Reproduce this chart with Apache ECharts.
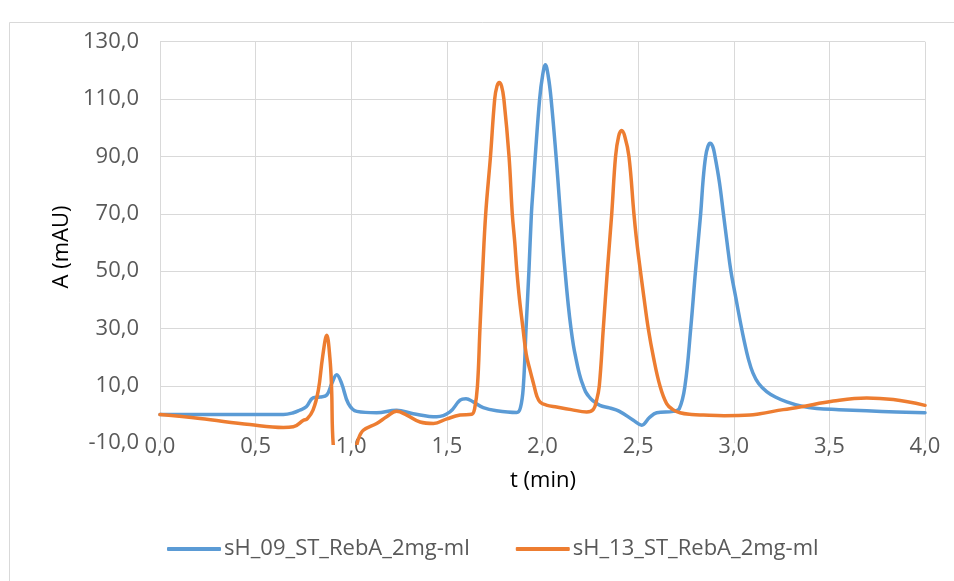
<!DOCTYPE html>
<html>
<head>
<meta charset="utf-8">
<script src="https://cdn.jsdelivr.net/npm/echarts@6/dist/echarts.min.js"></script>
<style>
html,body{margin:0;padding:0;background:#fff;}
#chart{width:954px;height:581px;}
</style>
</head>
<body>
<div id="chart"></div>
<script>
// Series names
var seriesNames = ["sH_09_ST_RebA_2mg-ml", "sH_13_ST_RebA_2mg-ml"];

// sH_09 (blue) : time (min) and absorbance (mAU)
var blueT = [0, 0.3, 0.645, 0.697, 0.73, 0.765, 0.80, 0.837, 0.872, 0.898, 0.924, 0.95, 0.985, 1.029, 1.133, 1.237, 1.324, 1.447, 1.516, 1.569, 1.6, 1.638, 1.69, 1.76, 1.865, 1.885, 1.9, 1.914, 1.929, 1.942, 1.952, 1.962, 1.985, 2.0, 2.015, 2.03, 2.045, 2.071, 2.088, 2.105, 2.118, 2.135, 2.149, 2.162, 2.175, 2.188, 2.2, 2.213, 2.225, 2.24, 2.26, 2.3, 2.35, 2.4, 2.475, 2.519, 2.56, 2.597, 2.684, 2.715, 2.745, 2.775, 2.80, 2.827, 2.84, 2.853, 2.865, 2.876, 2.89, 2.902, 2.925, 2.946, 2.965, 2.985, 3.01, 3.033, 3.055, 3.076, 3.1, 3.13, 3.172, 3.22, 3.277, 3.35, 3.434, 3.55, 3.695, 3.85, 4.0];
var blueA = [0, 0, 0, 0.6, 1.5, 2.7, 5.8, 6.1, 6.8, 10.8, 13.9, 10.8, 3.8, 1.1, 0.6, 1.5, 0.3, -0.8, 0.9, 5, 5.5, 4.4, 2.4, 1.3, 0.7, 2.5, 10, 30, 50, 70, 80, 90, 110, 118, 122, 118, 110, 90, 75, 60, 50, 38, 30, 24, 19.5, 15.5, 12.5, 10, 8, 6.5, 5, 3.2, 2.3, 1.2, -2, -3.7, -1, 0.6, 1.1, 2, 10, 30, 50, 70, 82, 90, 93.5, 94.6, 93.5, 90, 81, 70, 60, 50, 41, 32.8, 25.5, 19.5, 14.5, 10.8, 8, 6, 4.4, 3, 2.1, 1.7, 1.3, 0.9, 0.6];

// sH_13 (orange)
var orangeT = [0, 0.209, 0.47, 0.645, 0.697, 0.75, 0.77, 0.80, 0.828, 0.85, 0.872, 0.888, 0.897, 0.906, 0.93, 0.98, 1.02, 1.035, 1.063, 1.133, 1.185, 1.237, 1.29, 1.36, 1.43, 1.50, 1.569, 1.63, 1.645, 1.660, 1.673, 1.687, 1.703, 1.728, 1.750, 1.762, 1.774, 1.786, 1.798, 1.825, 1.842, 1.855, 1.866, 1.88, 1.898, 1.915, 1.935, 1.956, 1.97, 1.987, 2.02, 2.074, 2.15, 2.231, 2.266, 2.283, 2.297, 2.318, 2.339, 2.362, 2.382, 2.398, 2.414, 2.43, 2.452, 2.478, 2.49, 2.505, 2.53, 2.553, 2.58, 2.614, 2.649, 2.68, 2.719, 2.78, 2.841, 2.95, 3.085, 3.137, 3.259, 3.346, 3.521, 3.695, 3.834, 4.0];
var orangeA = [0, -1.4, -3.5, -4.5, -4.3, -2, -1.5, 1.5, 8.5, 20, 27.6, 20, 9.6, -10.7, -20, -22, -14, -9, -5.5, -3.1, -0.8, 1.1, -0.2, -2.6, -3.1, -1.5, -0.2, 0.1, 2, 10, 30, 50, 70, 90, 110, 114.5, 115.8, 114.5, 110, 90, 70, 60, 50, 40, 30, 21, 15.4, 10, 6.5, 4.4, 3.3, 2.6, 1.7, 0.9, 1.8, 5, 10, 30, 50, 70, 90, 97, 99, 97, 90, 70, 62, 53.7, 41, 30, 20, 10, 3.8, 1.8, 0.6, 0, -0.2, -0.4, -0.2, 0.3, 1.7, 2.6, 4.7, 5.8, 5.2, 3.2];

var xTitle = "t (min)";
var yTitle = "A (mAU)";

function pairs(t, a) { return t.map(function (v, i) { return [v, a[i]]; }); }
function fmt(v) { return v.toFixed(1).replace('.', ','); }

var FONT = "Open Sans";
var FS = 22;
var chart = echarts.init(document.getElementById('chart'), null, {renderer: 'canvas'});
chart.setOption({
  animation: false,
  backgroundColor: '#ffffff',
  textStyle: {fontFamily: FONT},
  graphic: [{
    type: 'rect', silent: true, z: -10,
    shape: {x: 9.5, y: 22.5, width: 960, height: 620},
    style: {fill: 'none', stroke: '#d9d9d9', lineWidth: 1}
  }, {
    type: 'text', x: 543, y: 481,
    style: {text: xTitle, font: FS + 'px "Open Sans"', fill: '#000000', align: 'center', verticalAlign: 'middle'}
  }, {
    type: 'text', x: 62, y: 247, rotation: Math.PI / 2,
    style: {text: yTitle, font: FS + 'px "Open Sans"', fill: '#000000', align: 'center', verticalAlign: 'middle'}
  }],
  grid: {left: 160, right: 29, top: 41.7, bottom: 137.8, containLabel: false},
  legend: {
    left: 162, top: 533,
    icon: 'roundRect', itemWidth: 54, itemHeight: 4, itemGap: 46,
    textStyle: {fontFamily: FONT, fontSize: FS, color: '#595959', padding: [0, 0, 0, -2]},
    data: seriesNames
  },
  xAxis: {
    type: 'value', min: 0, max: 4, interval: 0.5,
    axisLine: {show: false}, axisTick: {show: false},
    axisLabel: {formatter: fmt, fontFamily: FONT, fontSize: FS, color: '#595959', margin: -7},
    splitLine: {show: true, lineStyle: {color: '#d9d9d9', width: 1}}
  },
  yAxis: {
    type: 'value', min: -10, max: 130, interval: 20,
    axisLine: {show: false}, axisTick: {show: false},
    axisLabel: {formatter: fmt, fontFamily: FONT, fontSize: FS, color: '#595959', margin: 21},
    splitLine: {show: true, showMinLine: false, lineStyle: {color: '#d9d9d9', width: 1}}
  },
  series: [{
    name: seriesNames[0], type: 'line', data: pairs(blueT, blueA),
    smooth: 0.4, symbol: 'none', showSymbol: false, clip: true,
    lineStyle: {color: '#5B9BD5', width: 3.5, cap: 'round', join: 'round'},
    itemStyle: {color: '#5B9BD5'}, z: 2
  }, {
    name: seriesNames[1], type: 'line', data: pairs(orangeT, orangeA),
    smooth: 0.4, symbol: 'none', showSymbol: false, clip: true,
    lineStyle: {color: '#ED7D31', width: 3.5, cap: 'round', join: 'round'},
    itemStyle: {color: '#ED7D31'}, z: 3
  }]
});
</script>
</body>
</html>
